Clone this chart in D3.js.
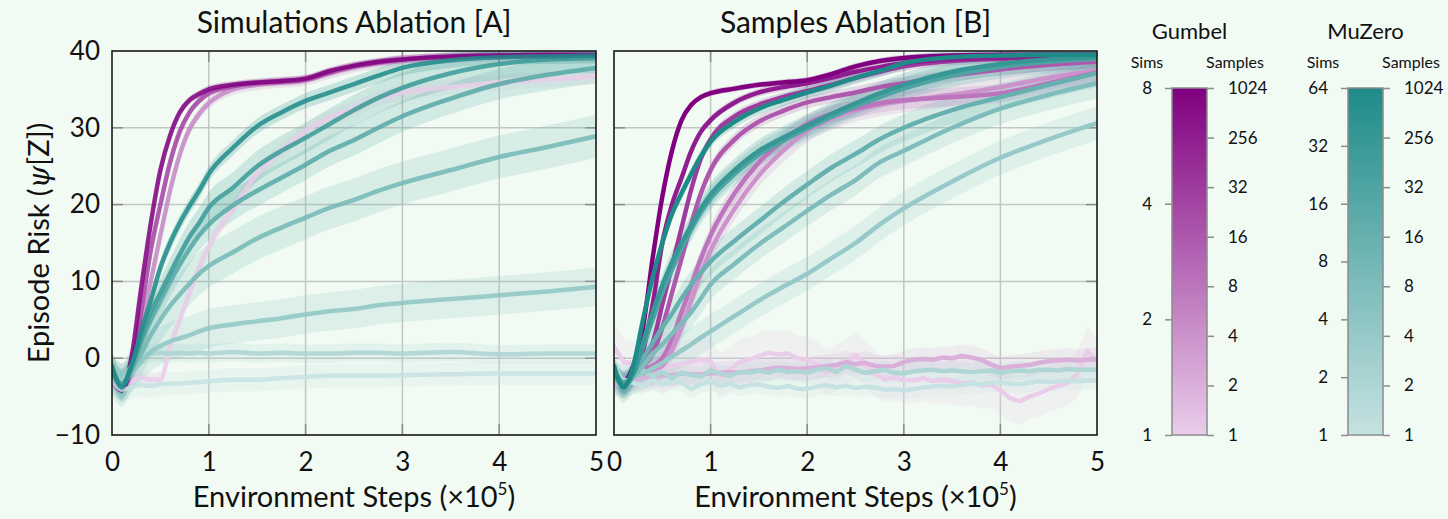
<!DOCTYPE html>
<html>
<head>
<meta charset="utf-8">
<script src="https://cdn.jsdelivr.net/npm/d3@7"></script>
<style>
  html, body { margin: 0; padding: 0; background: #f1faf3; }
  svg { display: block; }
  text { font-family: Lato, "Open Sans", sans-serif; fill: #111; }
</style>
</head>
<body>
<svg id="chart" width="1448" height="519"></svg>
<script>
// x grid (×10^5 env steps) for the smooth curves
const STEPS = [0, 0.1, 0.2, 0.3, 0.4, 0.5, 0.6, 0.7, 0.8, 0.9, 1.0, 1.25, 1.5, 1.75, 2.0, 2.25, 2.5, 2.75, 3.0, 3.5, 4.0, 4.5, 5.0];
// finer grid for the noisy flat runs of the samples ablation
const STEPS_FINE = [0, 0.1, 0.2, 0.3, 0.4, 0.5, 0.6, 0.7, 0.8, 0.9, 1.0, 1.1, 1.2, 1.3, 1.4, 1.5, 1.6, 1.7, 1.8, 1.9, 2.0,
  2.1, 2.2, 2.3, 2.4, 2.5, 2.6, 2.7, 2.8, 2.9, 3.0, 3.1, 3.2, 3.3, 3.4, 3.5, 3.6, 3.7, 3.8, 3.9, 4.0,
  4.1, 4.2, 4.3, 4.4, 4.5, 4.6, 4.7, 4.8, 4.9, 5.0];

const X_TICKS = [0, 1, 2, 3, 4, 5];
const Y_TICKS = [-10, 0, 10, 20, 30, 40];

// [A] simulations ablation
const GUMBEL_SIMS = [1, 2, 4, 8];
const GUMBEL_SIMS_RISK = [
  [-3.5, -3.8, -3, -2.5, -2.8, -2.8, 1.5, 5, 8.5, 11.8, 14.5, 19.5, 24, 27, 29.6, 31.3, 32.5, 33.8, 34.6, 35.3, 35.9, 36.3, 36.7],
  [-2, -3.8, -2, 4, 10, 16, 21.8, 26.5, 29.8, 31.8, 33.2, 35, 35.6, 35.9, 36.2, 37.1, 37.9, 38.4, 38.8, 39.1, 39.3, 39.3, 39.3],
  [-2.5, -4, -1.5, 6, 14, 20, 25.5, 29.5, 32, 33.5, 34.5, 35.4, 35.8, 36, 36.3, 37.2, 38, 38.5, 38.9, 39.2, 39.4, 39.4, 39.4],
  [-3, -4.2, 0, 9, 17.5, 24.5, 29, 32, 33.6, 34.4, 35, 35.6, 35.9, 36.1, 36.4, 37.4, 38.1, 38.6, 38.9, 39.3, 39.4, 39.5, 39.5]
];
const GUMBEL_SIMS_SPREAD = [1.0, 0.7, 0.5, 0.5];

const MUZERO_SIMS = [1, 2, 4, 8, 16, 32, 64];
const MUZERO_SIMS_RISK = [
  [-3, -4.1, -3.8, -3.5, -3.6, -3.4, -3.3, -3.3, -3.2, -3.1, -3, -2.8, -2.8, -2.6, -2.4, -2.3, -2.3, -2.3, -2.2, -2.1, -2, -2, -2],
  [-2, -3, -1, 0.4, 0.6, 0.7, 0.6, 0.7, 0.6, 0.7, 0.6, 0.8, 0.6, 0.7, 0.6, 0.6, 0.7, 0.7, 0.6, 0.8, 0.5, 0.6, 0.6],
  [-2, -3.2, -2, -0.5, 0.8, 1.6, 2.2, 2.6, 3, 3.5, 3.9, 4.4, 4.8, 5.2, 5.7, 6.1, 6.4, 6.9, 7.2, 7.7, 8.2, 8.7, 9.3],
  [-2, -3.5, -1.5, 0.5, 3, 5, 6.8, 8.3, 9.7, 11, 12, 13.8, 15.6, 17, 18.3, 19.6, 20.6, 21.8, 22.8, 24.5, 26.2, 27.5, 28.9],
  [-1.5, -3.3, -1.5, 2, 5, 7.5, 10, 12.2, 14.2, 16, 17.4, 19.9, 21.8, 23.5, 25.2, 27, 28.4, 30, 31.5, 33.8, 35.7, 36.9, 37.8],
  [-1.5, -3.5, -1, 2.5, 6, 8.5, 11, 13.5, 15.8, 17.6, 19.6, 22.2, 25, 27, 28.7, 30.5, 32.3, 33.9, 35.2, 37.1, 38.3, 38.9, 39.1],
  [-1, -3.8, -1, 3.5, 7.5, 11.8, 15, 17.6, 19.8, 21.8, 24, 27.4, 30.2, 32, 33.5, 34.6, 35.7, 36.8, 37.8, 38.8, 39.2, 39.3, 39.4]
];
const MUZERO_SIMS_SPREAD = [1.5, 1.2, 2.5, 2.8, 2.0, 2.0, 1.0];

// [B] samples ablation
const SAMPLES = [1, 2, 4, 8, 16, 32, 256, 1024];
const GUMBEL_SAMPLES_RISK = [
  [1.5, -0.5, -0.7, -1.5, -1.2, -1.5, -1, -0.7, -0.5, -0.2, -0.4, -2.4, -1.5, -0.5, -0.2, 0.3, 0.7, 0.5, 0.6, 0, -0.2,
    -0.8, -1.9, -1.2, -0.5, 0.4, -0.8, -2, -2.8, -2.5, -2.8, -2.9, -2.6, -3, -2.8, -3, -3.3, -3.1, -3.6, -3.4, -4.2,
    -5.2, -5.6, -5, -4.6, -4, -3.6, -3.2, -2, 1, -0.5],
  [-3.5, -3, -2.8, -2.5, -2.4, -2.3, -2.2, -2, -2.1, -2.1, -2, -1.9, -1.8, -1.9, -1.7, -1.6, -1.4, -1.2, -1.3, -1.4, -1.3,
    -1.2, -1, -0.9, -0.5, -0.8, -0.6, -1, -1.1, -1, -0.5, -0.2, -0.1, -0.2, 0.1, 0, 0.3, 0.1, -0.2, -0.8, -1.3,
    -1.1, -1, -0.9, -0.6, -0.4, -0.3, -0.2, -0.3, -0.2, -0.1],
  [-2, -3.5, -2.5, -2, -1.5, -1, 1, 4, 7.5, 11, 14, 19.5, 23.8, 27, 29.6, 31.2, 32.3, 33, 33.5, 34.3, 35.3, 36.5, 37.5],
  [-2, -3.5, -2.5, -1.5, -1, 0, 2.5, 6, 9.5, 13, 16, 21.5, 25.5, 28.3, 30.5, 31.8, 32.5, 33.2, 33.6, 34, 34.5, 35.8, 37.2],
  [-1.5, -3.3, -2, -1, 0.5, 4, 8.5, 13, 17.5, 21.5, 24.5, 28.5, 30.8, 32.2, 33.3, 34, 34.6, 35.3, 35.8, 36.8, 37.6, 38.2, 38.6],
  [-1.5, -3.2, -1.8, 0, 2, 7, 12, 17, 22, 26, 28.5, 31.5, 33, 34, 34.8, 35.6, 36.5, 37.3, 38, 38.7, 39, 39.2, 39.3],
  [-1.5, -3, -1.5, 1, 7, 15, 20, 23.5, 27, 29.5, 31, 33.3, 34.6, 35.3, 35.8, 36.5, 37.3, 37.9, 38.4, 38.9, 39.1, 39.2, 39.3],
  [-1.5, -3, -1, 4, 13, 21, 27, 31, 33, 34, 34.5, 35.1, 35.6, 35.9, 36.2, 37, 38, 38.7, 39.1, 39.4, 39.5, 39.5, 39.5]
];
const GUMBEL_SAMPLES_SPREAD = [3.0, 1.5, 1.5, 1.2, 0.8, 0.6, 0.5, 0.4];

const MUZERO_SAMPLES_RISK = [
  [-2.5, -2.8, -3.2, -3.6, -2.8, -3.5, -2.9, -3.2, -4, -3.4, -3, -3.6, -3.3, -3.8, -3.5, -3.4, -3.7, -3.9, -3.6, -4, -4,
    -3.7, -3.5, -3.8, -3.6, -3.9, -3.7, -3.8, -4.1, -4, -4.2, -4, -3.8, -3.7, -3.6, -3.7, -3.5, -3.3, -3.4, -3.2, -3.2,
    -3.3, -3.4, -3.2, -3, -3.1, -3, -2.9, -3, -2.9, -2.9],
  [-0.8, -3.3, -2.2, -1.6, -2.4, -1.8, -2.6, -1.9, -2.2, -2.4, -1.6, -2, -2.3, -1.8, -1.9, -1.6, -1.9, -1.5, -1.8, -1.7, -1.9,
    -1.5, -1.3, -1.8, -1, -1.5, -1.9, -1.7, -1.5, -1.9, -2, -1.7, -1.6, -1.5, -1.7, -1.6, -1.7, -1.8, -1.7, -1.6, -1.9,
    -1.7, -1.6, -1.7, -1.5, -1.5, -1.6, -1.4, -1.5, -1.5, -1.5],
  [-2.5, -3, -2.5, -2, -1.3, -0.6, 0.2, 1, 1.8, 2.7, 3.5, 5.5, 7.5, 9.3, 11, 13, 15, 17.4, 19.5, 23, 26.1, 28.5, 30.6],
  [-2, -3.8, -2.5, -1, 0.5, 1.8, 3.2, 4.6, 6, 7.8, 9.6, 12.3, 14.8, 17, 19.2, 21.3, 23.2, 25.5, 27, 30, 32.5, 34.3, 35.8],
  [-2, -3.5, -2, 0, 2, 4, 5.8, 7.8, 9.6, 11.2, 12.6, 15.3, 17.8, 20.3, 22.6, 24.8, 26.6, 28.5, 30, 32.3, 34, 35.6, 37.1],
  [-1.5, -3.2, -2, 1.5, 5, 8.5, 11.5, 14.3, 16.8, 19, 20.8, 24, 26.5, 28.3, 29.9, 31.4, 32.8, 34, 35.1, 36.8, 37.9, 38.6, 39],
  [-1.5, -3.5, -2, 2, 6, 9.5, 12.5, 15, 17.3, 19.5, 21.3, 24.5, 27, 28.7, 30.3, 31.8, 33.2, 34.5, 35.6, 37.3, 38.3, 38.9, 39.2],
  [-1, -3.8, -1, 5, 10.5, 15, 18.8, 21.5, 24, 26.3, 28.2, 30.8, 32.5, 33.6, 34.6, 35.5, 36.5, 37.4, 38.4, 39.2, 39.4, 39.5, 39.5]
];
const MUZERO_SAMPLES_SPREAD = [1.2, 1.2, 2.2, 2.0, 1.8, 1.5, 1.5, 0.8];

// colour-bar tick values
const GUMBEL_SIM_TICKS = [1, 2, 4, 8];
const MUZERO_SIM_TICKS = [1, 2, 4, 8, 16, 32, 64];

const W = 1448, H = 519;
const TOP = 51, BOTTOM = 435;
const GUMBEL_LO = "#e9cde9", GUMBEL_HI = "#800080";
const MUZERO_LO = "#c6e2e2", MUZERO_HI = "#1e8b88";
const gumbelColor = d3.interpolateRgb(GUMBEL_LO, GUMBEL_HI);
const muzeroColor = d3.interpolateRgb(MUZERO_LO, MUZERO_HI);

const svg = d3.select("#chart").attr("viewBox", [0, 0, W, H]);
svg.append("rect").attr("width", W).attr("height", H).attr("fill", "#f1faf3");
const defs = svg.append("defs");

const yScale = d3.scaleLinear().domain([-10, 40]).range([BOTTOM, TOP]);

// turn a risk array + spread into drawable rows
function toSeries(risk, spread, t, color) {
  const xs = risk.length === STEPS_FINE.length ? STEPS_FINE : STEPS;
  return {
    noisy: xs === STEPS_FINE,
    color: color(t),
    rows: risk.map((v, i) => ({ x: xs[i], y: v, lo: v - spread, hi: v + spread }))
  };
}

function drawPanel(id, x0, x1, title, series, showY, lineOpacity) {
  const x = d3.scaleLinear().domain([0, 5]).range([x0, x1]);
  const g = svg.append("g").attr("class", "panel");

  defs.append("clipPath").attr("id", id)
    .append("rect").attr("x", x0).attr("y", TOP).attr("width", x1 - x0).attr("height", BOTTOM - TOP);

  // grid
  const grid = g.append("g").attr("stroke", "#c3c6c3").attr("stroke-width", 1.5);
  grid.selectAll(".gx").data(X_TICKS.slice(1, -1)).join("line")
    .attr("x1", d => x(d)).attr("x2", d => x(d)).attr("y1", TOP).attr("y2", BOTTOM);
  grid.selectAll(".gy").data(Y_TICKS.slice(1, -1)).join("line")
    .attr("x1", x0).attr("x2", x1).attr("y1", d => yScale(d)).attr("y2", d => yScale(d));

  // short darker ticks on the inside of the frame
  const ticks = g.append("g").attr("stroke", "#8a8c8a").attr("stroke-width", 1.5);
  X_TICKS.slice(1, -1).forEach(d => {
    ticks.append("line").attr("x1", x(d)).attr("x2", x(d)).attr("y1", TOP).attr("y2", TOP + 11);
    ticks.append("line").attr("x1", x(d)).attr("x2", x(d)).attr("y1", BOTTOM).attr("y2", BOTTOM - 11);
  });
  Y_TICKS.slice(1, -1).forEach(d => {
    ticks.append("line").attr("x1", x0).attr("x2", x0 + 11).attr("y1", yScale(d)).attr("y2", yScale(d));
    ticks.append("line").attr("x1", x1).attr("x2", x1 - 11).attr("y1", yScale(d)).attr("y2", yScale(d));
  });

  const plot = g.append("g").attr("clip-path", `url(#${id})`);
  const area = d3.area().x(d => x(d.x)).y0(d => yScale(d.lo)).y1(d => yScale(d.hi));
  const line = d3.line().x(d => x(d.x)).y(d => yScale(d.y));

  plot.append("g").selectAll("path").data(series).join("path")
    .attr("d", s => area.curve(s.noisy ? d3.curveLinear : d3.curveMonotoneX)(s.rows))
    .attr("fill", s => s.color)
    .attr("fill-opacity", 0.2);

  plot.append("g").selectAll("path").data(series).join("path")
    .attr("d", s => line.curve(s.noisy ? d3.curveLinear : d3.curveMonotoneX)(s.rows))
    .attr("fill", "none")
    .attr("stroke", s => s.color)
    .attr("stroke-opacity", lineOpacity)
    .attr("stroke-width", 4.5)
    .attr("stroke-linejoin", "round")
    .attr("stroke-linecap", "round");

  // frame
  g.append("rect").attr("x", x0).attr("y", TOP).attr("width", x1 - x0).attr("height", BOTTOM - TOP)
    .attr("fill", "none").attr("stroke", "#1a1a1a").attr("stroke-width", 1.6);

  // axes
  const xAxis = g.append("g").attr("transform", `translate(0,${BOTTOM})`)
    .call(d3.axisBottom(x).tickValues(X_TICKS).tickFormat(d3.format("d")).tickSize(0).tickPadding(18));
  xAxis.select(".domain").remove();
  xAxis.selectAll("text").attr("font-size", 26).attr("font-family", "Lato, sans-serif").attr("fill", "#111");

  if (showY) {
    const yAxis = g.append("g").attr("transform", `translate(${x0},0)`)
      .call(d3.axisLeft(yScale).tickValues(Y_TICKS).tickSize(0).tickPadding(12));
    yAxis.select(".domain").remove();
    yAxis.selectAll("text").attr("font-size", 26).attr("font-family", "Lato, sans-serif").attr("fill", "#111");
  }

  g.append("text").attr("x", (x0 + x1) / 2).attr("y", 33).attr("text-anchor", "middle")
    .attr("font-size", 30).text(title);

  const xt = g.append("text").attr("x", (x0 + x1) / 2).attr("y", 507).attr("text-anchor", "middle")
    .attr("font-size", 29);
  xt.append("tspan").text("Environment Steps (×10");
  xt.append("tspan").attr("font-size", 17).attr("dy", -12).text("5");
  xt.append("tspan").attr("dy", 12).text(")");
}

// panel A
const seriesA = [
  ...GUMBEL_SIMS.map((s, i) => toSeries(GUMBEL_SIMS_RISK[i], GUMBEL_SIMS_SPREAD[i], Math.log2(s) / 3, gumbelColor)),
  ...MUZERO_SIMS.map((s, i) => toSeries(MUZERO_SIMS_RISK[i], MUZERO_SIMS_SPREAD[i], Math.log2(s) / 6, muzeroColor))
];
drawPanel("clipA", 112, 596, "Simulations Ablation [A]", seriesA, true, 0.85);

// panel B
const seriesB = [
  ...SAMPLES.map((s, i) => toSeries(GUMBEL_SAMPLES_RISK[i], GUMBEL_SAMPLES_SPREAD[i], i / (SAMPLES.length - 1), gumbelColor)),
  ...SAMPLES.map((s, i) => toSeries(MUZERO_SAMPLES_RISK[i], MUZERO_SAMPLES_SPREAD[i], i / (SAMPLES.length - 1), muzeroColor))
];
drawPanel("clipB", 614, 1097, "Samples Ablation [B]", seriesB, false, 1);

// y label
const yl = svg.append("text")
  .attr("transform", `translate(49,${(TOP + BOTTOM) / 2}) rotate(-90)`)
  .attr("text-anchor", "middle").attr("font-size", 29);
yl.append("tspan").text("Episode Risk (");
yl.append("tspan").attr("font-family", "'DejaVu Serif', serif").attr("font-style", "italic").text("ψ");
yl.append("tspan").text("[Z])");

// colour bars
function colorBar(name, bx, lo, hi, simTicks, simMax) {
  const bw = 35;
  const gid = "grad" + name;
  const grad = defs.append("linearGradient").attr("id", gid)
    .attr("x1", 0).attr("y1", 1).attr("x2", 0).attr("y2", 0);
  grad.append("stop").attr("offset", "0%").attr("stop-color", lo);
  grad.append("stop").attr("offset", "100%").attr("stop-color", hi);

  const top = 88, bottom = 435;
  const g = svg.append("g");
  g.append("rect").attr("x", bx).attr("y", top).attr("width", bw).attr("height", bottom - top)
    .attr("fill", `url(#${gid})`).attr("stroke", "#8c8c8c").attr("stroke-width", 1.5);

  const simScale = d3.scaleLog().base(2).domain([1, simMax]).range([bottom, top]);
  const sampleScale = d3.scalePoint().domain(SAMPLES).range([bottom, top]);

  const left = g.append("g").attr("transform", `translate(${bx},0)`)
    .call(d3.axisLeft(simScale).tickValues(simTicks).tickFormat(d3.format("d")).tickSize(7).tickPadding(13));
  const right = g.append("g").attr("transform", `translate(${bx + bw},0)`)
    .call(d3.axisRight(sampleScale).tickSize(7).tickPadding(14));
  [left, right].forEach(a => {
    a.select(".domain").remove();
    a.selectAll(".tick line").attr("stroke", "#8c8c8c").attr("stroke-width", 1.5);
    a.selectAll("text").attr("font-size", 17).attr("font-family", "Lato, sans-serif").attr("fill", "#111");
  });

  g.append("text").attr("x", bx + bw / 2).attr("y", 39).attr("text-anchor", "middle")
    .attr("font-size", 22).text(name);
  g.append("text").attr("x", bx - 25).attr("y", 68).attr("text-anchor", "middle")
    .attr("font-size", 16).text("Sims");
  g.append("text").attr("x", bx + bw + 28).attr("y", 68).attr("text-anchor", "middle")
    .attr("font-size", 16).text("Samples");
}

colorBar("Gumbel", 1172, GUMBEL_LO, GUMBEL_HI, GUMBEL_SIM_TICKS, 8);
colorBar("MuZero", 1348, MUZERO_LO, MUZERO_HI, MUZERO_SIM_TICKS, 64);
</script>
</body>
</html>
